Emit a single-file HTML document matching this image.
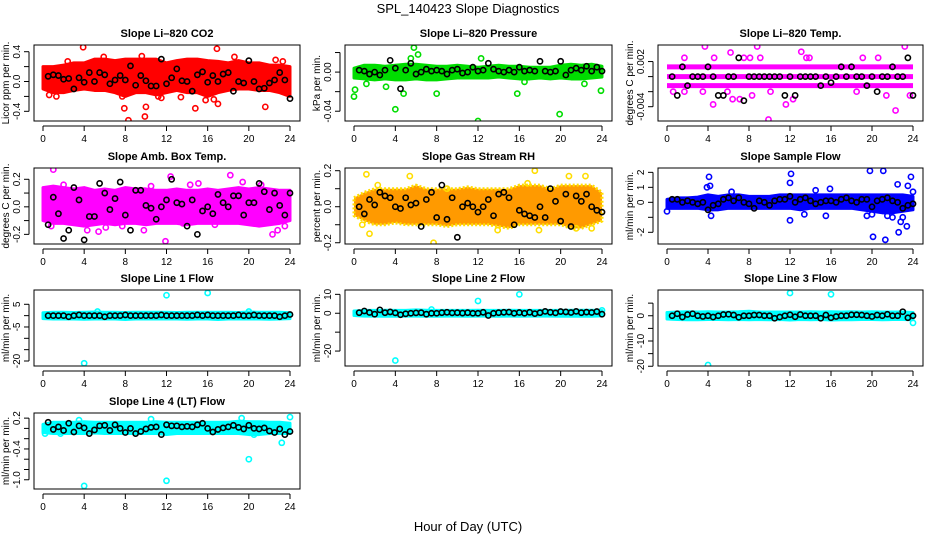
<!DOCTYPE html>
<html><head><meta charset="utf-8"><style>
html,body{margin:0;padding:0;background:#fff;}
svg{display:block;font-family:"Liberation Sans",Arial,sans-serif;}
</style></head><body>
<svg id="chart" width="936" height="540" viewBox="0 0 936 540" xmlns="http://www.w3.org/2000/svg">
<text x="468" y="13" text-anchor="middle" font-size="13">SPL_140423  Slope Diagnostics</text>
<text x="468" y="531" text-anchor="middle" font-size="13">Hour of Day (UTC)</text>
</svg>
<script>
const bandHours=[0,1,2,3,4,5,6,7,8,9,10,11,12,13,14,15,16,17,18,19,20,21,22,23,24];
const blackHours=[0.5,1,1.5,2,2.5,3,3.5,4,4.5,5,5.5,6,6.5,7,7.5,8,8.5,9,9.5,10,10.5,11,11.5,12,12.5,13,13.5,14,14.5,15,15.5,16,16.5,17,17.5,18,18.5,19,19.5,20,20.5,21,21.5,22,22.5,23,23.5,24];
const xTicks=[0,4,8,12,16,20,24];

const co2Hi=[0.2,0.2,0.22,0.25,0.25,0.3,0.3,0.28,0.3,0.3,0.3,0.3,0.25,0.28,0.3,0.3,0.28,0.27,0.25,0.28,0.25,0.25,0.22,0.22,0.2];
const co2Lo=[-0.1,-0.15,-0.15,-0.12,-0.1,-0.12,-0.12,-0.15,-0.2,-0.15,-0.15,-0.18,-0.15,-0.12,-0.15,-0.15,-0.2,-0.15,-0.12,-0.1,-0.1,-0.12,-0.12,-0.15,-0.2];
const co2Out=[[0.6,-0.18],[1.3,-0.2],[2.4,0.27],[5.9,0.33],[7.7,-0.2],[7.9,-0.36],[8.3,-0.52],[9.9,-0.47],[10,-0.34],[9.6,0.34],[11.2,-0.2],[11.5,-0.22],[13.4,-0.21],[14.8,-0.36],[15.8,-0.25],[16.9,0.44],[17,-0.3],[18.6,0.33],[21.6,-0.34],[22.6,0.29],[23.3,0.27],[16.6,-0.24],[3.9,0.46]];
const co2Black=[0.07,0.09,0.08,0.03,0.04,-0.1,0.05,-0.01,0.12,0.0,0.12,0.09,-0.03,0.02,0.08,0.02,0.21,-0.05,0.08,0.01,-0.06,-0.06,0.3,-0.03,0.05,0.17,0.01,0.0,-0.13,0.09,0.13,-0.01,0.08,0.0,0.1,0.12,-0.13,0.0,-0.02,0.28,0.0,-0.1,-0.09,-0.02,0.02,0.12,0.02,-0.23];

const presHi=[0.004,0.007,0.007,0.006,0.007,0.008,0.008,0.007,0.006,0.006,0.007,0.006,0.005,0.006,0.007,0.006,0.006,0.005,0.005,0.005,0.007,0.008,0.007,0.008,0.006];
const presLo=[-0.006,-0.007,-0.008,-0.007,-0.008,-0.008,-0.007,-0.008,-0.008,-0.007,-0.006,-0.006,-0.006,-0.006,-0.005,-0.006,-0.007,-0.007,-0.006,-0.007,-0.006,-0.007,-0.007,-0.006,-0.005];
const presOut=[[0,-0.025],[0.1,-0.018],[4,-0.038],[5.8,0.025],[4.8,-0.022],[8,-0.022],[12,-0.05],[15.8,-0.022],[19.9,-0.043],[23.9,-0.019],[3.1,-0.015],[1.2,-0.012],[6.2,0.018],[5.5,0.014],[12.3,0.014],[16.5,-0.01],[22.3,-0.012]];
const presBlack=[0.002,0.001,-0.002,0.0,-0.003,0.002,0.012,0.004,-0.017,0.002,0.009,-0.002,0.0,0.003,0.001,0.002,0.001,-0.002,0.002,0.003,-0.001,0.0,0.005,0.001,0.002,0.009,0.003,0.001,0.0,0.002,0.0,0.005,0.001,0.002,0.001,0.011,0.001,0.0,0.001,0.011,-0.003,0.002,0.004,0.002,0.006,0.001,0.005,0.001];

const tempLevels=[0.0013,0,-0.0012];
const tempOut=[[3.7,0.004],[1.7,0.0025],[4.6,0.0025],[6.2,0.0032],[7.5,0.0025],[8.1,0.0025],[8.8,0.004],[9.9,-0.0057],[9.1,0.0025],[13.1,0.0033],[13.6,0.0025],[13.9,0.0025],[19.1,0.0025],[20.6,0.0025],[22.3,-0.0045],[23.2,0.004],[4.5,-0.0037],[6.4,-0.003],[7.1,-0.003],[8.3,-0.0025],[11.6,-0.0037],[12.3,-0.003],[0.6,-0.002],[1.7,-0.002],[23.7,-0.0025],[21.4,-0.0025],[3.5,-0.002],[5.9,-0.002],[10.1,-0.002],[18.5,-0.002]];
const tempBlack=[0,-0.0025,0.0013,-0.0012,0,0,0,0.0013,0,-0.0025,-0.0025,0,0,0.0025,-0.0032,0,0,0,0,0,0,0,-0.0025,0,-0.0025,0,0,0,0,-0.0012,0,-0.0008,0,0.0013,0,0.0013,0,0,-0.0012,0,-0.002,0,0,0.0013,0,0,0.0025,-0.0025];

const boxHi=[0.14,0.15,0.14,0.13,0.14,0.12,0.13,0.12,0.14,0.13,0.13,0.12,0.12,0.13,0.12,0.12,0.13,0.12,0.13,0.14,0.13,0.14,0.13,0.12,0.12];
const boxLo=[-0.1,-0.12,-0.12,-0.13,-0.14,-0.13,-0.12,-0.13,-0.12,-0.12,-0.13,-0.12,-0.12,-0.12,-0.13,-0.12,-0.12,-0.12,-0.12,-0.12,-0.13,-0.14,-0.13,-0.12,-0.1];
const boxOut=[[1.0,0.27],[0.8,-0.14],[4.3,-0.17],[5.4,-0.18],[6.1,-0.15],[9.8,-0.17],[11.9,-0.25],[12.4,0.22],[13.6,-0.12],[15.1,0.17],[18.2,0.23],[22.3,-0.2],[22.8,-0.17],[23.5,-0.14],[2.0,0.16],[7.7,-0.14],[19.4,0.18],[21.2,0.16],[16.7,-0.13],[14.3,0.16],[10.5,0.15]];
const boxBlack=[-0.13,0.07,-0.05,-0.23,-0.17,0.14,0.05,-0.24,-0.07,-0.07,0.17,0.1,-0.02,0.06,0.18,-0.06,-0.17,0.12,0.12,0.01,-0.01,-0.09,0.0,0.05,0.2,0.03,0.02,-0.14,0.05,-0.2,-0.03,0.0,-0.05,0.09,0.03,0.0,0.08,0.08,-0.06,0.03,0.03,0.17,0.11,-0.02,0.1,0.01,-0.06,0.1];

const rhHi=[0.05,0.08,0.1,0.1,0.1,0.1,0.12,0.1,0.1,0.1,0.1,0.11,0.1,0.1,0.1,0.1,0.12,0.12,0.12,0.1,0.12,0.12,0.12,0.12,0.08];
const rhLo=[-0.05,-0.08,-0.1,-0.1,-0.09,-0.1,-0.1,-0.1,-0.1,-0.11,-0.1,-0.1,-0.1,-0.1,-0.11,-0.12,-0.1,-0.1,-0.1,-0.1,-0.1,-0.12,-0.12,-0.1,-0.08];
const rhOut=[[1.2,0.18],[5.4,0.17],[2.3,0.12],[0.8,-0.1],[1.5,-0.15],[7.7,-0.2],[9,0.1],[16.8,0.13],[13.9,-0.13],[17.5,0.2],[17.9,-0.13],[20.8,0.17],[22.4,0.17],[21.5,-0.12],[23,-0.12]];
const rhBlack=[0.0,-0.04,0.04,0.01,0.08,0.06,0.05,0.0,-0.01,0.05,0.01,0.02,-0.11,0.04,0.08,-0.06,0.12,-0.07,0.05,-0.17,0.0,0.02,0.0,-0.03,0.0,0.04,-0.05,0.07,0.08,0.05,-0.1,-0.02,-0.04,-0.05,-0.06,0.0,-0.06,0.1,0.03,-0.08,0.07,-0.11,0.06,0.03,0.07,0.0,-0.02,-0.03];

const sfHi=[0.2,0.3,0.3,0.35,0.5,0.4,0.5,0.5,0.4,0.4,0.4,0.5,0.5,0.5,0.5,0.5,0.5,0.5,0.5,0.5,0.5,0.5,0.5,0.5,0.4];
const sfLo=[-0.4,-0.4,-0.4,-0.4,-0.5,-0.5,-0.4,-0.4,-0.4,-0.4,-0.4,-0.4,-0.4,-0.5,-0.4,-0.4,-0.4,-0.4,-0.4,-0.5,-0.6,-0.7,-0.7,-0.6,-0.5];
const sfOut=[[0,-0.6],[4.1,1.7],[3.9,1.0],[4.2,1.1],[4.3,-0.9],[6.3,0.7],[12.1,1.9],[12,1.3],[12,-1.2],[13.4,-0.8],[15.5,-0.9],[19.8,2.1],[21.1,2.1],[20,-0.8],[20.1,-2.3],[21.3,-2.5],[22.6,-2.0],[22.8,-1.3],[23.8,1.7],[23.5,1.1],[24,0.7],[22.5,1.2],[23,-1.0],[21.5,-0.9],[22,-1.0],[19.5,-0.9],[23.4,-1.6],[15.9,0.9],[14.5,0.8]];
const sfBlack=[0.2,0.2,0.0,0.1,0.0,-0.1,0.0,-0.5,-0.2,-0.1,0.2,0.3,0.1,0.3,0.0,-0.1,-0.4,0.1,0.0,-0.2,0.1,0.2,0.2,0.4,0.0,0.2,0.3,0.1,-0.1,0.0,0.1,0.1,0.0,0.2,0.3,0.1,0.0,0.2,0.2,-0.3,0.1,0.2,0.3,0.1,0.0,-0.4,-0.2,-0.1];

const l1Hi=[1.3,1.5,1.5,1.4,1.5,1.6,1.5,1.5,1.4,1.5,1.5,1.5,1.5,1.4,1.5,1.5,1.5,1.5,1.5,1.4,1.6,1.5,1.5,1.5,1.3];
const l1Lo=[-1.3,-1.5,-1.5,-1.5,-1.6,-1.5,-1.5,-1.5,-1.7,-1.5,-1.5,-1.5,-1.5,-1.5,-1.6,-1.5,-1.5,-1.7,-1.5,-1.5,-1.5,-1.5,-1.6,-1.5,-1.3];
const l1Out=[[4,-21],[12,9],[16,10],[20,1.8],[5.3,1.8]];
const l1Black=[0,0,0,0,-0.5,0,0.3,0,0,0,0,-0.5,0,0,0,0.3,0,0,0,0,0,0,0.3,0,0,0,0,0,0,0.3,0,0.3,0,0,0,0,0,0.3,0,0,0.3,0,0,0,0,-0.5,0,0.5];

const l2Hi=[1.2,1.5,1.5,1.6,1.5,1.5,1.8,1.6,1.5,1.5,1.5,1.5,1.6,1.5,1.5,1.6,1.5,1.5,1.5,1.5,1.5,1.6,1.6,1.6,1.4];
const l2Lo=[-1.2,-1.5,-1.5,-1.6,-1.6,-1.5,-1.5,-1.6,-1.6,-1.5,-1.5,-1.6,-1.5,-1.5,-1.6,-1.5,-1.6,-1.5,-1.5,-1.5,-1.6,-1.6,-1.5,-1.6,-1.4];
const l2Out=[[4,-25],[12,6.5],[16,10],[24,1.5],[7.5,2]];
const l2Black=[0.3,1.2,0.4,-0.5,1.8,0.3,0.7,0.2,-0.8,-0.3,0.0,0.2,0.3,-0.5,0.0,0.0,0.3,0.5,0.2,0.3,0.1,0.3,0.0,0.0,0.5,-1.2,0.0,0.3,0.5,0.6,0.0,0.4,0.0,0.5,-0.2,0.3,1.0,0.5,0.2,0.9,0.7,0.4,1.0,0.3,0.6,0.4,0.9,-0.5];

const l3Hi=[1.3,1.5,1.6,1.5,1.6,1.5,1.5,1.6,1.8,1.5,1.5,1.5,1.5,1.5,1.6,1.5,1.6,1.5,1.6,1.5,1.6,1.5,1.5,1.5,1.3];
const l3Lo=[-1.3,-1.5,-1.6,-1.6,-1.5,-1.5,-1.6,-1.5,-1.6,-1.5,-1.6,-1.5,-1.7,-1.5,-1.6,-1.5,-1.7,-1.6,-1.6,-1.5,-1.5,-1.6,-1.5,-1.5,-1.6];
const l3Out=[[4,-19.5],[12,9],[16,8.5],[24,-2.8]];
const l3Black=[0.0,0.8,-0.5,0.5,0.8,0.0,-0.3,0.0,-0.5,0.0,0.5,0.6,0.3,-0.6,0.0,0.0,0.3,0.3,0.0,0.0,-1.0,-0.5,0.0,0.4,-0.4,0.5,0.0,0.0,0.0,-1.0,0.3,-0.8,-0.3,0.0,0.0,0.4,0.4,0.3,0.0,-0.3,0.3,0.0,0.6,0.0,0.0,1.6,-0.8,0.0];

const l4Hi=[0.08,0.12,0.12,0.12,0.13,0.12,0.12,0.12,0.12,0.12,0.12,0.13,0.12,0.12,0.12,0.12,0.12,0.12,0.12,0.14,0.13,0.13,0.12,0.12,0.1];
const l4Lo=[-0.08,-0.1,-0.1,-0.1,-0.1,-0.09,-0.1,-0.1,-0.1,-0.1,-0.1,-0.1,-0.12,-0.1,-0.1,-0.1,-0.1,-0.1,-0.1,-0.1,-0.12,-0.12,-0.1,-0.1,-0.1];
const l4Out=[[4,-1.12],[12,-1.02],[20,-0.6],[24,0.22],[23.2,-0.28],[0.2,-0.1],[3.5,0.16],[10.5,0.18],[19.3,0.2],[20.5,-0.12],[1.7,-0.1]];
const l4Black=[0.12,-0.02,0.03,-0.04,0.1,-0.07,0.05,0.01,-0.1,-0.03,0.05,0.06,-0.04,0.07,0.0,-0.08,0.0,-0.1,-0.06,-0.01,0.02,0.03,-0.12,0.07,0.05,0.05,0.03,0.04,0.03,0.07,0.1,0.0,-0.07,-0.02,0.01,0.03,0.06,0.02,-0.01,0.06,0.0,-0.01,0.01,-0.05,-0.08,-0.01,-0.12,-0.06];

const NS='http://www.w3.org/2000/svg';
const svg=document.getElementById('chart');
function mk(tag,attrs,parent){const e=document.createElementNS(NS,tag);for(const k in attrs)e.setAttribute(k,attrs[k]);(parent||svg).appendChild(e);return e;}

const cols=[[34,300],[345,612],[658,923]];
const rows=[[45,121],[168,244],[290,366],[413,489]];
const panels=[
 {key:'co2',title:'Slope Li–820 CO2',ylab:'Licor ppm per min.',c:0,r:0,ylim:[-0.53,0.49],ticks:[-0.4,-0.2,0,0.2,0.4],labels:[[-0.4,'-0.4'],[0,'0.0'],[0.4,'0.4']],color:'#ff0000',hi:co2Hi,lo:co2Lo,out:co2Out,black:co2Black},
 {key:'pressure',title:'Slope Li–820 Pressure',ylab:'kPa per min.',c:1,r:0,ylim:[-0.05,0.0277],ticks:[-0.04,-0.02,0,0.02],labels:[[-0.04,'-0.04'],[0,'0.00']],color:'#00dd00',hi:presHi,lo:presLo,out:presOut,black:presBlack},
 {key:'temp',title:'Slope Li–820 Temp.',ylab:'degrees C per min.',c:2,r:0,ylim:[-0.0059,0.0042],ticks:[-0.004,-0.002,0,0.002],labels:[[-0.004,'-0.004'],[0.002,'0.002']],color:'#ff00ff',levels:tempLevels,out:tempOut,black:tempBlack},
 {key:'ambbox',title:'Slope Amb. Box Temp.',ylab:'degrees C per min.',c:0,r:1,ylim:[-0.27,0.282],ticks:[-0.2,-0.1,0,0.1,0.2],labels:[[-0.2,'-0.2'],[0,'0.0'],[0.2,'0.2']],color:'#ff00ff',hi:boxHi,lo:boxLo,out:boxOut,black:boxBlack},
 {key:'rh',title:'Slope Gas Stream RH',ylab:'percent per min.',c:1,r:1,ylim:[-0.207,0.215],ticks:[-0.2,-0.1,0,0.1,0.2],labels:[[-0.2,'-0.2'],[0,'0.0'],[0.2,'0.2']],color:'#ff9a00',stroke2:'#ffdd00',hi:rhHi,lo:rhLo,out:rhOut,black:rhBlack},
 {key:'sampleflow',title:'Slope Sample Flow',ylab:'ml/min per min.',c:2,r:1,ylim:[-2.78,2.29],ticks:[-2,-1,0,1,2],labels:[[-2,'-2'],[0,'0'],[1,'1'],[2,'2']],color:'#0000ff',hi:sfHi,lo:sfLo,out:sfOut,black:sfBlack},
 {key:'line1',title:'Slope Line 1 Flow',ylab:'ml/min per min.',c:0,r:2,ylim:[-22.2,11.3],ticks:[-20,-15,-10,-5,0,5],labels:[[-20,'-20'],[-5,'-5'],[5,'5']],color:'#00ffff',hi:l1Hi,lo:l1Lo,out:l1Out,black:l1Black},
 {key:'line2',title:'Slope Line 2 Flow',ylab:'ml/min per min.',c:1,r:2,ylim:[-27.9,12.3],ticks:[-20,-10,0,10],labels:[[-20,'-20'],[0,'0'],[10,'10']],color:'#00ffff',hi:l2Hi,lo:l2Lo,out:l2Out,black:l2Black},
 {key:'line3',title:'Slope Line 3 Flow',ylab:'ml/min per min.',c:2,r:2,ylim:[-19.9,10.2],ticks:[-20,-15,-10,-5,0,5],labels:[[-20,'-20'],[-10,'-10'],[0,'0']],color:'#00ffff',hi:l3Hi,lo:l3Lo,out:l3Out,black:l3Black},
 {key:'line4',title:'Slope Line 4 (LT) Flow',ylab:'ml/min per min.',c:0,r:3,ylim:[-1.18,0.30],ticks:[-1.0,-0.8,-0.6,-0.4,-0.2,0,0.2],labels:[[-1.0,'-1.0'],[-0.4,'-0.4'],[0.2,'0.2']],color:'#00ffff',hi:l4Hi,lo:l4Lo,out:l4Out,black:l4Black}
];

panels.forEach(p=>{
 const [x0,x1]=cols[p.c],[y0,y1]=rows[p.r];
 const g=mk('g',{});
 
 
 const xs=h=>x0+9+(h/24)*((x1-10)-(x0+9));
 const ys=v=>y1-(v-p.ylim[0])/(p.ylim[1]-p.ylim[0])*(y1-y0);
 const clip='clip-'+p.key;
 const cp=mk('clipPath',{id:clip},g);mk('rect',{x:x0,y:y0,width:x1-x0,height:y1-y0},cp);
 const data=mk('g',{'clip-path':'url(#'+clip+')'},g);
 // dense band
 if(p.hi){
  let pts=bandHours.map((h,i)=>xs(h)+','+ys(p.hi[i]));
  for(let i=bandHours.length-1;i>=0;i--)pts.push(xs(bandHours[i])+','+ys(p.lo[i]));
  const band=mk('polygon',{points:pts.join(' '),fill:p.color,stroke:p.stroke2||p.color,'stroke-width':3,'stroke-linejoin':'round','stroke-dasharray':p.stroke2?'2 2':'none'},data);
  
  
 }
 if(p.levels){
  p.levels.forEach(l=>{
   const ln=mk('line',{x1:xs(0),x2:xs(24),y1:ys(l),y2:ys(l),stroke:p.color,'stroke-width':5},data);
   
   
  });
 }
 p.out.forEach(o=>{
  const c=mk('circle',{cx:xs(o[0]),cy:ys(o[1]),r:2.6,fill:'none',stroke:p.stroke2||p.color,'stroke-width':1.6},data);
  
  
 });
 p.black.forEach((v,i)=>{
  const c=mk('circle',{cx:xs(blackHours[i]),cy:ys(v),r:2.6,fill:'none',stroke:'#000','stroke-width':1.6},data);
  
  
 });
 const fr=mk('rect',{x:x0,y:y0,width:x1-x0,height:y1-y0,fill:'none',stroke:'#000','stroke-width':1},g);
 
 
 const t=mk('text',{x:(x0+x1)/2,y:y0-8,'text-anchor':'middle','font-size':11,'font-weight':'bold'},g);t.textContent=p.title;
 
 
 // x axis
 const ax=y1+5;
 mk('line',{x1:xs(0),x2:xs(24),y1:ax,y2:ax,stroke:'#000'},g);
 xTicks.forEach(h=>{
  mk('line',{x1:xs(h),x2:xs(h),y1:ax,y2:ax+5,stroke:'#000'},g);
  const tl=mk('text',{x:xs(h),y:ax+16,'text-anchor':'middle','font-size':10},g);tl.textContent=h;
  
  
 });
 // y axis
 const ay=x0-5;
 const tk=p.ticks;
 mk('line',{x1:ay,x2:ay,y1:ys(tk[0]),y2:ys(tk[tk.length-1]),stroke:'#000'},g);
 tk.forEach(v=>mk('line',{x1:ay-5,x2:ay,y1:ys(v),y2:ys(v),stroke:'#000'},g));
 p.labels.forEach(l=>{
  const tx=ay-9,ty=ys(l[0]);
  const tl=mk('text',{x:tx,y:ty,'text-anchor':'middle','font-size':10,transform:'rotate(-90 '+tx+' '+ty+')'},g);tl.textContent=l[1];
  
  
 });
 const lx=x0-25,ly=(y0+y1)/2;
 const yl=mk('text',{x:lx,y:ly,'text-anchor':'middle','font-size':10,transform:'rotate(-90 '+lx+' '+ly+')'},g);yl.textContent=p.ylab;
 
 
});
</script>
</body></html>
